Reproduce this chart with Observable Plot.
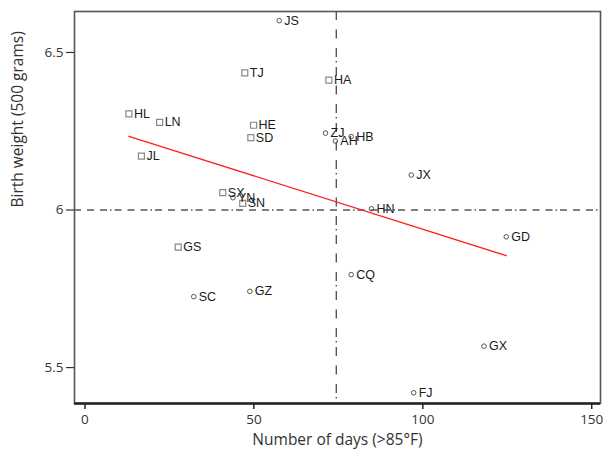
<!DOCTYPE html>
<html>
<head>
<meta charset="utf-8">
<script src="https://cdn.jsdelivr.net/npm/d3@7"></script>
<script src="https://cdn.jsdelivr.net/npm/@observablehq/plot@0.6"></script>
<style>
  html, body { margin: 0; padding: 0; background: #fff; }
  svg { display: block; }
</style>
</head>
<body>
<div id="chart"></div>
<script>
// Province codes
const provinces = ["JS","TJ","HA","HL","LN","HE","SD","ZJ","HB","AH","JL","SX","YN","SN","JX","HN","GD","CQ","GS","SC","GZ","GX","FJ"];
// Number of days (>85°F)
const hotDays = [57.5,47.3,72.2,13.0,22.1,49.9,49.1,71.2,78.8,74.1,16.7,40.8,43.8,46.7,96.6,84.8,124.7,78.8,27.6,32.2,48.8,118.1,97.3];
// Birth weight (500 grams)
const birthWeight = [6.601,6.435,6.412,6.305,6.278,6.269,6.230,6.244,6.233,6.219,6.171,6.055,6.039,6.021,6.111,6.004,5.915,5.795,5.882,5.725,5.742,5.568,5.420];
// Marker group: square = north, circle = south
const group = ["circle","square","square","square","square","square","square","circle","circle","circle","square","square","circle","square","circle","circle","circle","circle","square","circle","circle","circle","circle"];

// Fitted line end points
const fitX = [13.0, 124.7];
const fitY = [6.234, 5.855];

// Reference lines
const refX = [74.4];
const refY = [6];

const xTicks = [0, 50, 100, 150];
const yTicks = [5.5, 6, 6.5];
const xDomain = [-3.1, 152.6];
const yDomain = [5.386, 6.63];

const data = provinces.map((p, i) => ({p, x: hotDays[i], y: birthWeight[i], g: group[i]}));
const fit = fitX.map((x, i) => ({x, y: fitY[i]}));

const axisFont = "Open Sans, Liberation Sans, Arial, sans-serif";

const chart = Plot.plot({
  width: 603,
  height: 458,
  marginLeft: 74,
  marginRight: 3,
  marginTop: 11,
  marginBottom: 55,
  style: {fontFamily: "Liberation Sans, Arial, sans-serif", fontSize: "12px", color: "#333", background: "#fff"},
  x: {domain: xDomain},
  y: {domain: yDomain},
  marks: [
    Plot.ruleY(refY, {stroke: "#555", strokeWidth: 1.4, strokeDasharray: "7,6,7,6,7,3,1.5,3"}),
    Plot.ruleX(refX, {stroke: "#555", strokeWidth: 1.4, strokeDasharray: "9,9.5,9,9.5,9,4,1.5,4.5"}),
    Plot.line(fit, {x: "x", y: "y", stroke: "#ff2020", strokeWidth: 1.3}),
    Plot.dot(data.filter(d => d.g === "square"), {x: "x", y: "y", symbol: "square", r: 3.4, stroke: "#888", strokeWidth: 1.2, fill: "none"}),
    Plot.dot(data.filter(d => d.g === "circle"), {x: "x", y: "y", symbol: "circle", r: 2.3, stroke: "#555", strokeWidth: 1, fill: "none"}),
    Plot.text(data, {x: "x", y: "y", text: "p", textAnchor: "start", dx: 5, fill: "#1a1a1a", fontSize: 12.5}),
    Plot.frame({stroke: "#555", strokeWidth: 1.6}),
    Plot.ruleY([yDomain[0]], {stroke: "#222", strokeWidth: 2.5}),
    Plot.axisX(xTicks, {tickSize: 6, tickPadding: 5, fontSize: 13.5, fontFamily: axisFont, label: null, stroke: "#222", strokeWidth: 1.5, fill: "#333"}),
    Plot.axisY(yTicks, {tickSize: 8, tickPadding: 3, fontSize: 13.5, fontFamily: axisFont, label: null, tickFormat: d => String(d), stroke: "#333", strokeWidth: 1.2, fill: "#333"}),
    Plot.text(["Number of days (>85°F)"], {frameAnchor: "bottom", dy: 37, text: d => d, fontSize: 15.5, fontFamily: axisFont, fill: "#333", lineAnchor: "middle"}),
    Plot.text(["Birth weight (500 grams)"], {frameAnchor: "left", dx: -56, rotate: -90, text: d => d, fontSize: 15.5, fontFamily: axisFont, fill: "#333", lineAnchor: "middle"})
  ]
});
document.getElementById("chart").appendChild(chart);
</script>
</body>
</html>
